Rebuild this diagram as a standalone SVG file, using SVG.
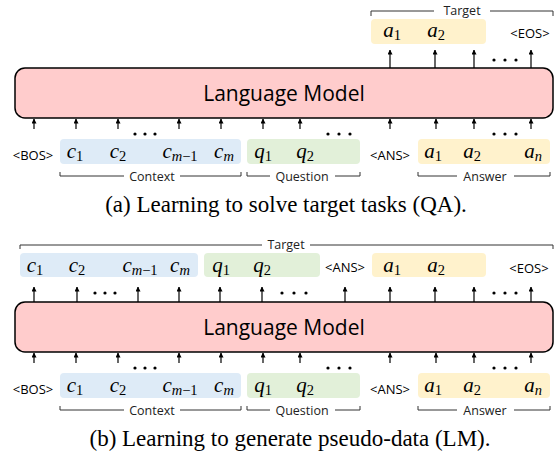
<svg xmlns="http://www.w3.org/2000/svg" width="554" height="463" viewBox="0 0 554 463">
<style>
.lm{fill:#ffcccc;stroke:#000;stroke-width:1.5}
.lmt{font-family:"Open Sans","Noto Sans",sans-serif;font-size:21px;fill:#000;text-anchor:middle}
.blue{fill:#deebf7}
.green{fill:#e2f0d9}
.yellow{fill:#fff2cc}
.m{font-family:"Liberation Serif",serif;font-style:italic;font-size:21px;fill:#000;text-anchor:middle}
.sub{font-style:normal;font-size:14.5px}
.it{font-style:italic}
.tok{font-family:"Open Sans","Noto Sans",sans-serif;font-size:13px;fill:#000;text-anchor:middle}
.lbl{font-family:"Open Sans","Noto Sans",sans-serif;font-size:12.5px;fill:#222;text-anchor:middle}
.br{fill:none;stroke:#333;stroke-width:1}
.ar{stroke:#000;stroke-width:1.2;marker-end:url(#ah)}
.dot{fill:#000}
.cap{font-family:"Liberation Serif",serif;font-size:23px;fill:#000;text-anchor:middle}
</style>
<defs>
<marker id="ah" markerUnits="userSpaceOnUse" markerWidth="5" markerHeight="5" refX="4.5" refY="2.5" orient="auto">
<path d="M0,0 L5,2.5 L0,5 z" fill="#000"/>
</marker>
</defs>

<!-- Panel (a) -->
<g id="a-target">
<path class="br" d="M371 16 V11 H434 M490 11 H553 V16"/>
<text class="lbl" x="462" y="15">Target</text>
<rect class="yellow" x="371" y="19" width="115" height="25" rx="4"/>
<text class="m" x="392" y="37">a<tspan class="sub" dy="3">1</tspan></text>
<text class="m" x="436" y="37">a<tspan class="sub" dy="3">2</tspan></text>
<text class="tok" x="530" y="38">&lt;EOS&gt;</text>
</g>
<g id="a-lm">
<rect class="lm" x="15" y="68" width="538" height="50" rx="10"/>
<text class="lmt" x="284" y="101">Language Model</text>
</g>
<g id="a-context">
<text class="tok" x="33" y="160">&lt;BOS&gt;</text>
<rect class="blue" x="60" y="139" width="181" height="25" rx="4"/>
<text class="m" x="75" y="158">c<tspan class="sub" dy="3">1</tspan></text>
<text class="m" x="118" y="158">c<tspan class="sub" dy="3">2</tspan></text>
<text class="m" x="180" y="158">c<tspan class="sub" dy="3"><tspan class="it">m</tspan>−1</tspan></text>
<text class="m" x="224" y="158">c<tspan class="sub it" dy="3">m</tspan></text>
<path class="br" d="M60 172 V176 H124 M180 176 H241 V172"/>
<text class="lbl" x="152" y="181">Context</text>
</g>
<g id="a-question">
<rect class="green" x="247" y="139" width="113" height="25" rx="4"/>
<text class="m" x="263" y="158">q<tspan class="sub" dy="3">1</tspan></text>
<text class="m" x="305" y="158">q<tspan class="sub" dy="3">2</tspan></text>
<path class="br" d="M247 172 V176 H270 M335 176 H360 V172"/>
<text class="lbl" x="302" y="181">Question</text>
</g>
<g id="a-answer">
<text class="tok" x="390" y="160">&lt;ANS&gt;</text>
<rect class="yellow" x="418" y="139" width="132" height="25" rx="4"/>
<text class="m" x="433" y="158">a<tspan class="sub" dy="3">1</tspan></text>
<text class="m" x="472" y="158">a<tspan class="sub" dy="3">2</tspan></text>
<text class="m" x="533" y="158">a<tspan class="sub it" dy="3">n</tspan></text>
<path class="br" d="M418 172 V176 H457 M514 176 H550 V172"/>
<text class="lbl" x="485" y="181">Answer</text>
</g>
<text id="a-caption" class="cap" x="286" y="212">(a) Learning to solve target tasks (QA).</text>

<!-- Panel (b) -->
<g id="b-target">
<path class="br" d="M20 249 V245 H262 M310 245 H553 V249"/>
<text class="lbl" x="286" y="249">Target</text>
<rect class="blue" x="20" y="253" width="178" height="24" rx="4"/>
<text class="m" x="35" y="272">c<tspan class="sub" dy="3">1</tspan></text>
<text class="m" x="77" y="272">c<tspan class="sub" dy="3">2</tspan></text>
<text class="m" x="140" y="272">c<tspan class="sub" dy="3"><tspan class="it">m</tspan>−1</tspan></text>
<text class="m" x="180" y="272">c<tspan class="sub it" dy="3">m</tspan></text>
<rect class="green" x="204" y="253" width="116" height="24" rx="4"/>
<text class="m" x="221" y="272">q<tspan class="sub" dy="3">1</tspan></text>
<text class="m" x="262" y="272">q<tspan class="sub" dy="3">2</tspan></text>
<text class="tok" x="345" y="272">&lt;ANS&gt;</text>
<rect class="yellow" x="372" y="253" width="114" height="24" rx="4"/>
<text class="m" x="392" y="272">a<tspan class="sub" dy="3">1</tspan></text>
<text class="m" x="436" y="272">a<tspan class="sub" dy="3">2</tspan></text>
<text class="tok" x="529" y="273">&lt;EOS&gt;</text>
</g>
<g id="b-lm">
<rect class="lm" x="15" y="302" width="538" height="50" rx="10"/>
<text class="lmt" x="284" y="335">Language Model</text>
</g>
<g id="b-context">
<text class="tok" x="33" y="394">&lt;BOS&gt;</text>
<rect class="blue" x="60" y="373" width="181" height="25" rx="4"/>
<text class="m" x="75" y="392">c<tspan class="sub" dy="3">1</tspan></text>
<text class="m" x="118" y="392">c<tspan class="sub" dy="3">2</tspan></text>
<text class="m" x="180" y="392">c<tspan class="sub" dy="3"><tspan class="it">m</tspan>−1</tspan></text>
<text class="m" x="224" y="392">c<tspan class="sub it" dy="3">m</tspan></text>
<path class="br" d="M60 406 V410 H124 M180 410 H241 V406"/>
<text class="lbl" x="152" y="415">Context</text>
</g>
<g id="b-question">
<rect class="green" x="247" y="373" width="113" height="25" rx="4"/>
<text class="m" x="263" y="392">q<tspan class="sub" dy="3">1</tspan></text>
<text class="m" x="305" y="392">q<tspan class="sub" dy="3">2</tspan></text>
<path class="br" d="M247 406 V410 H270 M335 410 H360 V406"/>
<text class="lbl" x="302" y="415">Question</text>
</g>
<g id="b-answer">
<text class="tok" x="390" y="394">&lt;ANS&gt;</text>
<rect class="yellow" x="418" y="373" width="132" height="25" rx="4"/>
<text class="m" x="433" y="392">a<tspan class="sub" dy="3">1</tspan></text>
<text class="m" x="472" y="392">a<tspan class="sub" dy="3">2</tspan></text>
<text class="m" x="533" y="392">a<tspan class="sub it" dy="3">n</tspan></text>
<path class="br" d="M418 406 V410 H457 M514 410 H550 V406"/>
<text class="lbl" x="485" y="415">Answer</text>
</g>
<text id="b-caption" class="cap" x="290" y="446">(b) Learning to generate pseudo-data (LM).</text>

<g id="connectors">
<!-- (a) outputs -->
<line class="ar" x1="390" y1="68" x2="390" y2="50"/>
<line class="ar" x1="435" y1="68" x2="435" y2="50"/>
<line class="ar" x1="474" y1="68" x2="474" y2="50"/>
<line class="ar" x1="531" y1="68" x2="531" y2="50"/>
<!-- (a) inputs -->
<line class="ar" x1="34" y1="129" x2="34" y2="119"/>
<line class="ar" x1="76" y1="129" x2="76" y2="119"/>
<line class="ar" x1="118" y1="129" x2="118" y2="119"/>
<line class="ar" x1="179" y1="129" x2="179" y2="119"/>
<line class="ar" x1="221" y1="129" x2="221" y2="119"/>
<line class="ar" x1="263" y1="129" x2="263" y2="119"/>
<line class="ar" x1="300" y1="129" x2="300" y2="119"/>
<line class="ar" x1="390" y1="129" x2="390" y2="119"/>
<line class="ar" x1="436" y1="129" x2="436" y2="119"/>
<line class="ar" x1="474" y1="129" x2="474" y2="119"/>
<line class="ar" x1="531" y1="129" x2="531" y2="119"/>
<!-- (b) outputs -->
<line class="ar" x1="34" y1="302" x2="34" y2="287"/>
<line class="ar" x1="77" y1="302" x2="77" y2="287"/>
<line class="ar" x1="138" y1="302" x2="138" y2="287"/>
<line class="ar" x1="179" y1="302" x2="179" y2="287"/>
<line class="ar" x1="220" y1="302" x2="220" y2="287"/>
<line class="ar" x1="262" y1="302" x2="262" y2="287"/>
<line class="ar" x1="345" y1="302" x2="345" y2="287"/>
<line class="ar" x1="390" y1="302" x2="390" y2="287"/>
<line class="ar" x1="435" y1="302" x2="435" y2="287"/>
<line class="ar" x1="474" y1="302" x2="474" y2="287"/>
<line class="ar" x1="531" y1="302" x2="531" y2="287"/>
<!-- (b) inputs -->
<line class="ar" x1="34" y1="363" x2="34" y2="353"/>
<line class="ar" x1="76" y1="363" x2="76" y2="353"/>
<line class="ar" x1="118" y1="363" x2="118" y2="353"/>
<line class="ar" x1="179" y1="363" x2="179" y2="353"/>
<line class="ar" x1="221" y1="363" x2="221" y2="353"/>
<line class="ar" x1="263" y1="363" x2="263" y2="353"/>
<line class="ar" x1="300" y1="363" x2="300" y2="353"/>
<line class="ar" x1="390" y1="363" x2="390" y2="353"/>
<line class="ar" x1="436" y1="363" x2="436" y2="353"/>
<line class="ar" x1="474" y1="363" x2="474" y2="353"/>
<line class="ar" x1="531" y1="363" x2="531" y2="353"/>
</g>
<g id="ellipses" class="dot">
<circle cx="494" cy="60" r="1.6"/><circle cx="505" cy="60" r="1.6"/><circle cx="516" cy="60" r="1.6"/>
<circle cx="135" cy="134" r="1.6"/><circle cx="145" cy="134" r="1.6"/><circle cx="155" cy="134" r="1.6"/>
<circle cx="328" cy="134" r="1.6"/><circle cx="339" cy="134" r="1.6"/><circle cx="350" cy="134" r="1.6"/>
<circle cx="494" cy="134" r="1.6"/><circle cx="505" cy="134" r="1.6"/><circle cx="516" cy="134" r="1.6"/>
<circle cx="95" cy="293" r="1.6"/><circle cx="105" cy="293" r="1.6"/><circle cx="115" cy="293" r="1.6"/>
<circle cx="282" cy="293" r="1.6"/><circle cx="294" cy="293" r="1.6"/><circle cx="306" cy="293" r="1.6"/>
<circle cx="494" cy="293" r="1.6"/><circle cx="505" cy="293" r="1.6"/><circle cx="516" cy="293" r="1.6"/>
<circle cx="135" cy="368" r="1.6"/><circle cx="145" cy="368" r="1.6"/><circle cx="155" cy="368" r="1.6"/>
<circle cx="328" cy="368" r="1.6"/><circle cx="339" cy="368" r="1.6"/><circle cx="350" cy="368" r="1.6"/>
<circle cx="494" cy="368" r="1.6"/><circle cx="505" cy="368" r="1.6"/><circle cx="516" cy="368" r="1.6"/>
</g>
</svg>
